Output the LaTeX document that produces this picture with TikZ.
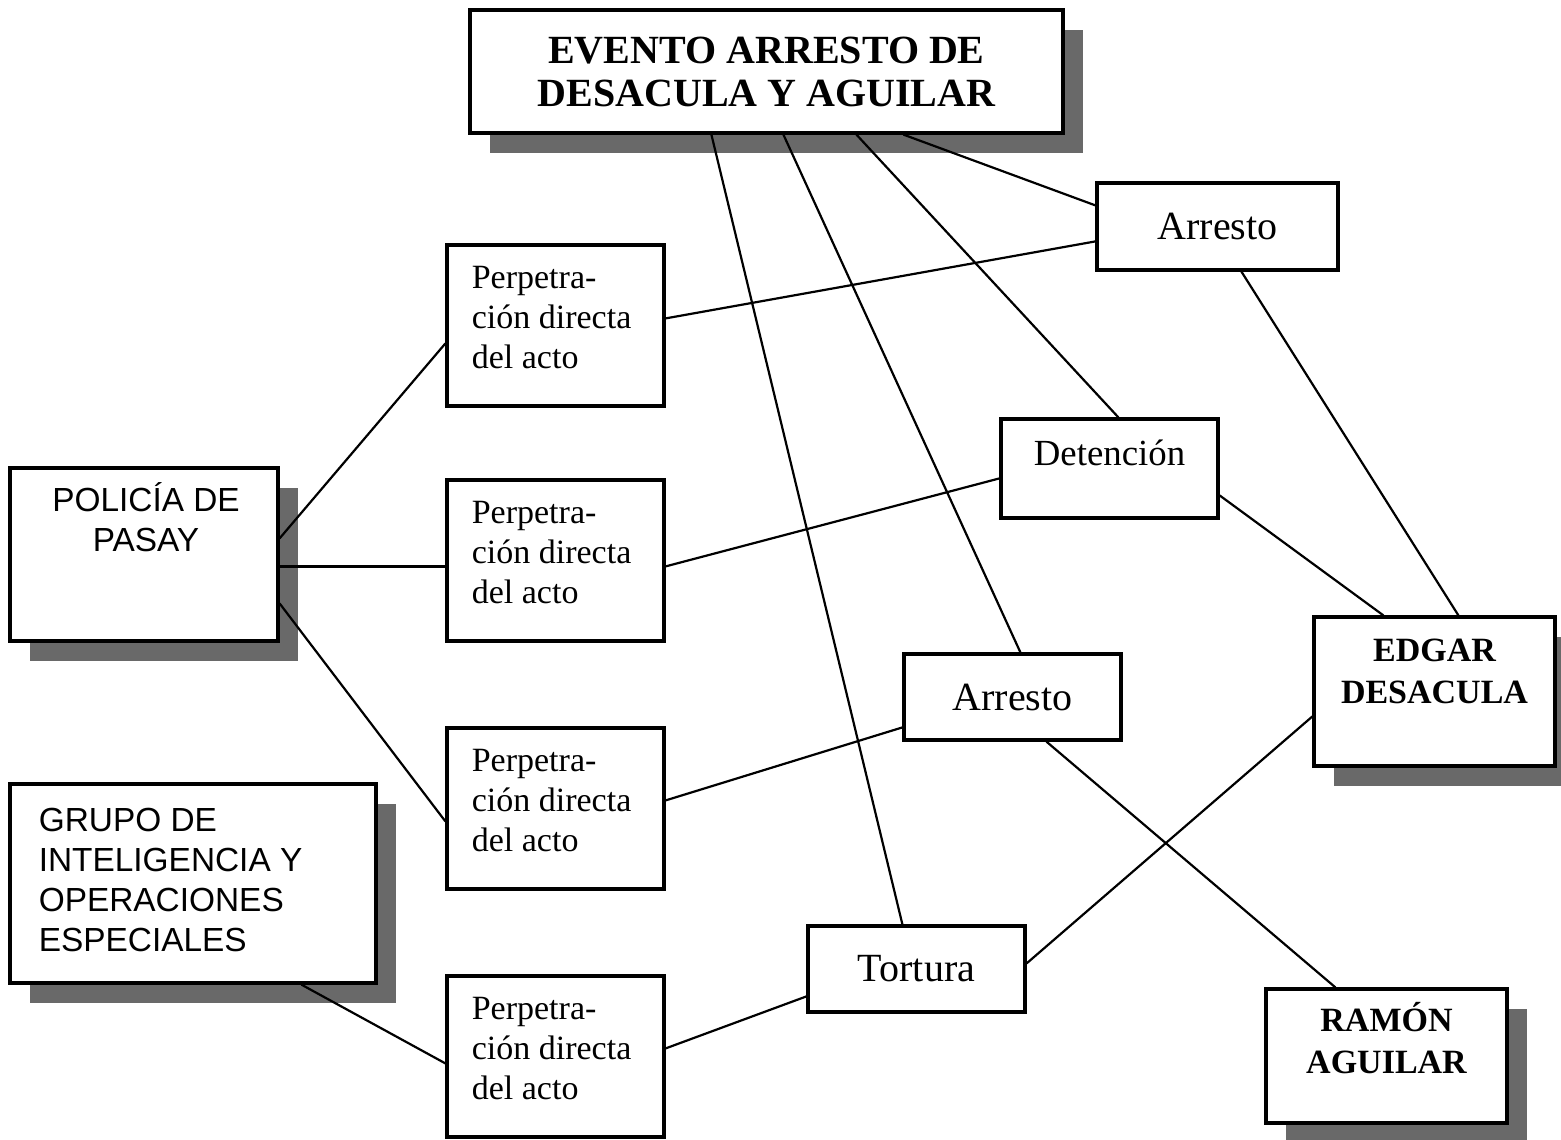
\documentclass[tikz,border=0pt]{standalone}
\usepackage{fontspec}
\setmainfont{Liberation Serif}
\setsansfont{Liberation Sans}
\usetikzlibrary{calc,shadows}
\definecolor{shadowgray}{RGB}{105,105,105}
\begin{document}
\begin{tikzpicture}[x=0.5pt,y=-0.5pt,
  box/.style={draw=black, line width=1.6pt, fill=white, inner sep=0pt},
  shadowbox/.style={box, drop shadow={shadow xshift=10pt, shadow yshift=-10pt, fill=shadowgray, opacity=1}},
  conn/.style={line width=1.1pt, draw=black},
  titlefont/.style={font=\fontsize{20pt}{21.5pt}\selectfont\bfseries, align=center},
  namefont/.style={font=\fontsize{17pt}{21pt}\selectfont\bfseries, align=center, inner sep=0pt},
  perptext/.style={font=\fontsize{17pt}{20pt}\selectfont, align=left, inner sep=0pt},
  sanstext/.style={font=\sffamily\fontsize{16.7pt}{20pt}\selectfont, inner sep=0pt},
  acttext/.style={font=\fontsize{20pt}{24pt}\selectfont},
]
\fill[white] (0,0) rectangle (1561,1139);
\useasboundingbox (0,0) rectangle (1561,1139);

% main boxes
\node[shadowbox, titlefont, minimum width=296.5pt, minimum height=61.5pt] (top) at (766.5,71.5) {EVENTO ARRESTO DE\\DESACULA Y AGUILAR};

\node[box, acttext, minimum width=120.5pt, minimum height=43.5pt] (arr1) at (1217.5,226.5) {Arresto};

\node[box, minimum width=108.5pt, minimum height=80.5pt] (perp1) at (555.5,325.5) {};
\node[perptext, anchor=base west] (perp1t) at ($(perp1.north west)+(26,125)$) {Perpetra-\\ción directa\\del acto};
\node[box, minimum width=108.5pt, minimum height=80.5pt] (perp2) at (555.5,560.5) {};
\node[perptext, anchor=base west] (perp2t) at ($(perp2.north west)+(26,125)$) {Perpetra-\\ción directa\\del acto};
\node[box, minimum width=108.5pt, minimum height=80.5pt] (perp3) at (555.5,808.5) {};
\node[perptext, anchor=base west] (perp3t) at ($(perp3.north west)+(26,125)$) {Perpetra-\\ción directa\\del acto};
\node[box, minimum width=108.5pt, minimum height=80.5pt] (perp4) at (555.5,1056.5) {};
\node[perptext, anchor=base west] (perp4t) at ($(perp4.north west)+(26,125)$) {Perpetra-\\ción directa\\del acto};

\node[box, minimum width=108.5pt, minimum height=49.5pt] (det) at (1109.5,468.5) {};
\node[font=\fontsize{18.4pt}{22pt}\selectfont, inner sep=0pt, anchor=base] (dett) at ($(det.north)+(0,48)$) {Detención};

\node[shadowbox, minimum width=134pt, minimum height=86.5pt] (pol) at (144,554.5) {};
\node[sanstext, align=center, anchor=base] (polt) at ($(pol.north)+(2,85)$) {POLICÍA DE\\PASAY};

\node[box, acttext, minimum width=108.5pt, minimum height=43pt] (arr2) at (1012.5,697) {Arresto};

\node[shadowbox, minimum width=120.5pt, minimum height=74.5pt] (edgar) at (1434.5,691.5) {};
\node[namefont, anchor=base] (edgart) at ($(edgar.north)+(0,88)$) {EDGAR\\DESACULA};

\node[shadowbox, minimum width=183pt, minimum height=99.5pt] (grupo) at (193,883.5) {};
\node[sanstext, align=left, anchor=base west] (grupot) at ($(grupo.north west)+(30,169)$) {GRUPO DE\\INTELIGENCIA Y\\OPERACIONES\\ESPECIALES};

\node[box, acttext, minimum width=108.5pt, minimum height=43pt] (tort) at (916.5,969) {Tortura};

\node[shadowbox, minimum width=120.5pt, minimum height=67pt] (ramon) at (1386.5,1056) {};
\node[namefont, anchor=base] (ramont) at ($(ramon.north)+(0,86)$) {RAMÓN\\AGUILAR};

% connectors
\draw[conn] ($(top.south west)+(243,0)$) -- ($(tort.north west)+(96,0)$);
\draw[conn] ($(top.south west)+(315,0)$) -- ($(arr2.north west)+(118,0)$);
\draw[conn] ($(top.south west)+(388,0)$) -- ($(det.north west)+(119,0)$);
\draw[conn] ($(top.south west)+(435,0)$) -- ($(arr1.north west)+(0,24)$);
\draw[conn] ($(perp1.north east)+(0,75)$) -- ($(arr1.north west)+(0,60)$);
\draw[conn] ($(pol.north east)+(0,72)$) -- ($(perp1.north west)+(0,100)$);
\draw[conn] ($(pol.north east)+(0,100)$) -- ($(perp2.north west)+(0,88)$);
\draw[conn] ($(pol.north east)+(0,137)$) -- ($(perp3.north west)+(0,95)$);
\draw[conn] ($(perp2.north east)+(0,88)$) -- ($(det.north west)+(0,61)$);
\draw[conn] ($(perp3.north east)+(0,74)$) -- ($(arr2.north west)+(0,75)$);
\draw[conn] ($(grupo.south west)+(293,0)$) -- ($(perp4.north west)+(0,89)$);
\draw[conn] ($(perp4.north east)+(0,74)$) -- ($(tort.north west)+(0,72)$);
\draw[conn] ($(arr1.south west)+(146,0)$) -- ($(edgar.north west)+(146,0)$);
\draw[conn] ($(det.north east)+(0,78)$) -- ($(edgar.north west)+(71,0)$);
\draw[conn] ($(arr2.south west)+(144,0)$) -- ($(ramon.north west)+(71,0)$);
\draw[conn] ($(tort.north east)+(0,39)$) -- ($(edgar.north west)+(0,101)$);
\end{tikzpicture}
\end{document}
